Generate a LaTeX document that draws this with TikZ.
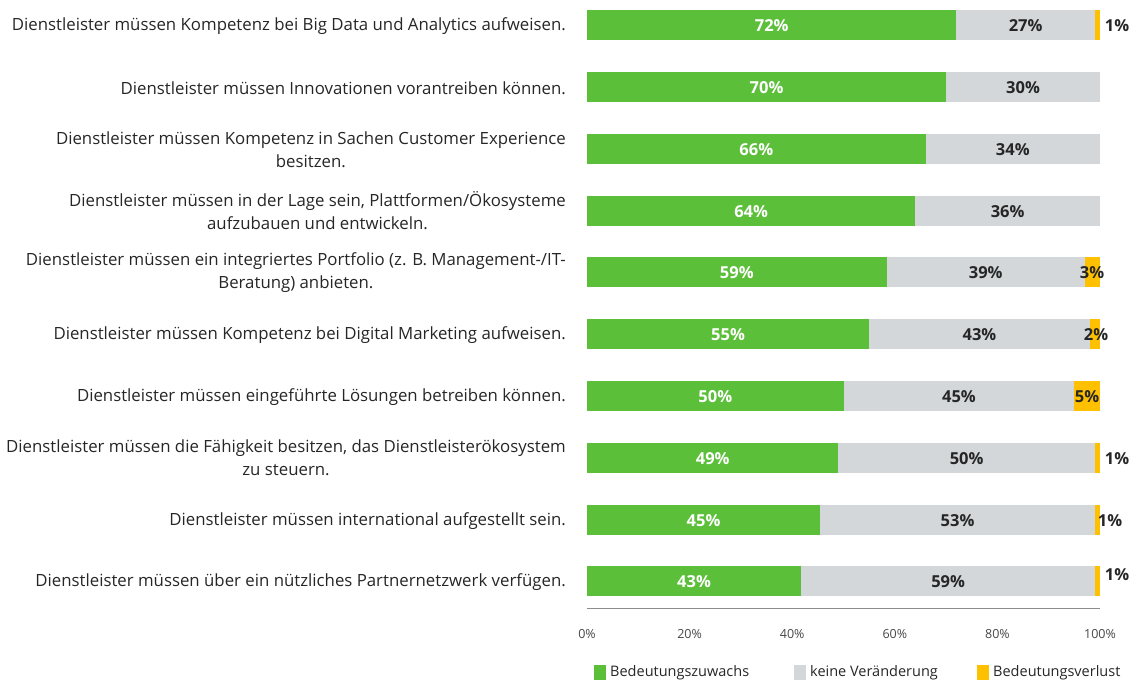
\documentclass[tikz,border=0pt]{standalone}
\usepackage{fontspec}
\setmainfont{Open Sans}
\definecolor{cgreen}{HTML}{5BBF3A}
\definecolor{cgray}{HTML}{D3D7DA}
\definecolor{cyel}{HTML}{FFC000}
\definecolor{ctext}{HTML}{262626}
\begin{document}
\begin{tikzpicture}[x=1pt,y=-1pt,
  lab/.style={anchor=east, align=center, inner sep=0pt, text=ctext, font=\fontsize{16.8}{23}\selectfont},
  valw/.style={inner sep=0pt, text=white, font=\fontsize{16.5}{18}\selectfont\bfseries},
  valb/.style={inner sep=0pt, text=ctext, font=\fontsize{16.5}{18}\selectfont\bfseries},
  tick/.style={inner sep=0pt, text=ctext!85, font=\fontsize{12.5}{14}\selectfont},
  leg/.style={anchor=west, inner sep=0pt, text=ctext, font=\fontsize{14.5}{17}\selectfont}]
\useasboundingbox (0,0) rectangle (1138,682);
% bars: index/y/green/none/loss
\foreach \i/\y/\g/\n/\l in {1/25/72/27/1, 2/87/70/30/0, 3/149/66/34/0, 4/211/64/36/0, 5/272/59/39/3, 6/334/55/43/2, 7/396/50/45/5, 8/458/49/50/1, 9/520/45/53/1, 10/581/43/59/1}{
  \pgfmathsetmacro\s{\g+\n+\l}
  \pgfmathsetmacro\xa{587+5.13*(100*\g/\s)}
  \pgfmathsetmacro\xb{587+5.13*(100*(\g+\n)/\s)}
  \fill[cgreen] (587,\y-15) rectangle (\xa,\y+15);
  \fill[cgray] (\xa,\y-15) rectangle (\xb,\y+15);
  \ifnum\l>0 \fill[cyel] (\xb,\y-15) rectangle (1100,\y+15);\fi
  \node[valw] (g\i) at ({(587+\xa)/2},\y+1) {\g\%};
  \node[valb] (n\i) at ({(\xa+\xb)/2},\y+1) {\n\%};
}
% loss labels
\node[valb] (l1) at (1117,26) {1\%};
\node[valb] (l5) at (1092,273) {3\%};
\node[valb] (l6) at (1096,335) {2\%};
\node[valb] (l7) at (1087,397) {5\%};
\node[valb] (l8) at (1117,459) {1\%};
\node[valb] (l9) at (1110,521) {1\%};
\node[valb] (l10) at (1117,575) {1\%};
% category labels
\node[lab] (c1) at (566,26) {Dienstleister müssen Kompetenz bei Big Data und Analytics aufweisen.};
\node[lab] (c2) at (566,88) {Dienstleister müssen Innovationen vorantreiben können.};
\node[lab] (c3) at (566,150) {Dienstleister müssen Kompetenz in Sachen Customer Experience\\besitzen.};
\node[lab] (c4) at (566,211) {Dienstleister müssen in der Lage sein, Plattformen/Ökosysteme\\aufzubauen und entwickeln.};
\node[lab] (c5) at (566,273) {Dienstleister müssen ein integriertes Portfolio (z. B. Management-/IT-\\Beratung) anbieten.};
\node[lab] (c6) at (566,335) {Dienstleister müssen Kompetenz bei Digital Marketing aufweisen.};
\node[lab] (c7) at (566,397) {Dienstleister müssen eingeführte Lösungen betreiben können.};
\node[lab] (c8) at (566,458) {Dienstleister müssen die Fähigkeit besitzen, das Dienstleisterökosystem\\zu steuern.};
\node[lab] (c9) at (566,521) {Dienstleister müssen international aufgestellt sein.};
\node[lab] (c10) at (566,582) {Dienstleister müssen über ein nützliches Partnernetzwerk verfügen.};
% axis
\coordinate (ax0) at (587,608);
\coordinate (ax1) at (1100,608);
\draw[color=black!45, line width=0.8pt] (ax0) -- (ax1);
\foreach \p in {0,20,40,60,80,100}{
  \node[tick] (t\p) at ({587+5.13*\p},634) {\p\%};
}
% legend
\fill[cgreen] (594,665) rectangle (606,680);
\node[leg] (lg1) at (610,673) {Bedeutungszuwachs};
\fill[cgray] (794,665) rectangle (806,680);
\node[leg] (lg2) at (810,673) {keine Veränderung};
\fill[cyel] (977,665) rectangle (989,680);
\node[leg] (lg3) at (993,673) {Bedeutungsverlust};
\end{tikzpicture}
\end{document}
